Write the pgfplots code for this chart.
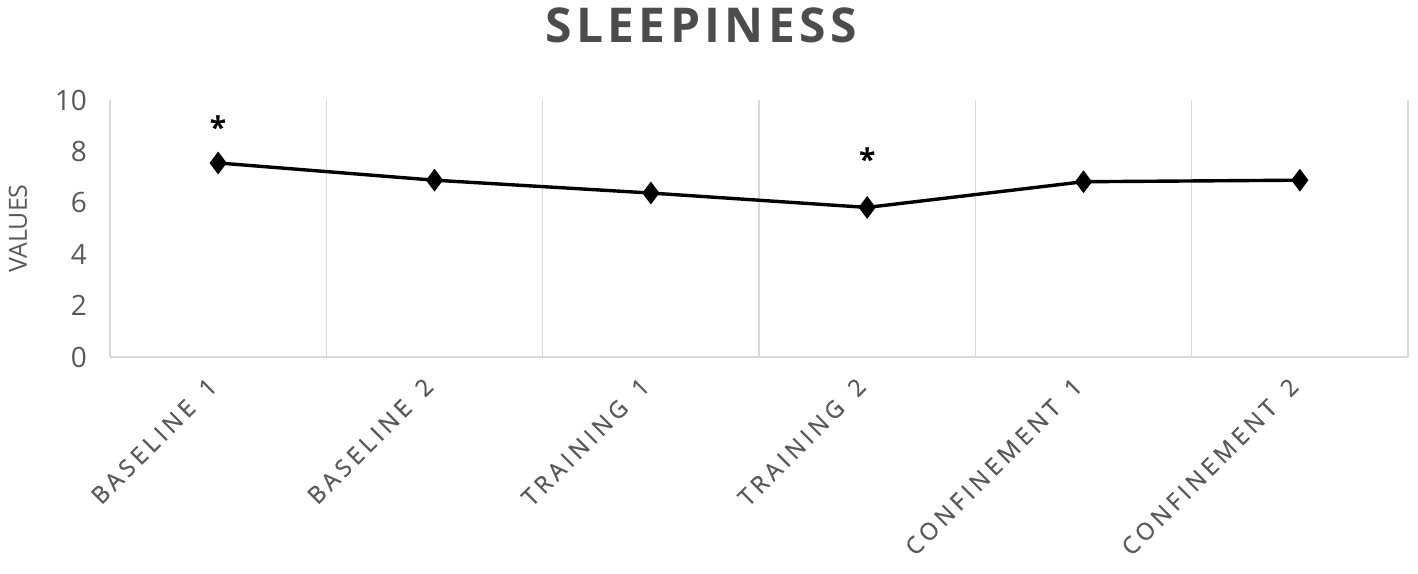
\documentclass[border=0pt]{standalone}
\usepackage{pgfplots}
\pgfplotsset{compat=1.18}
\usepackage{fontspec}
\setmainfont{Open Sans}
\newfontfamily\spaced{Open Sans}[LetterSpace=18, FakeBold=0.6, WordSpace=1.6]
\newfontfamily\titlefont{Open Sans}[LetterSpace=9]
\definecolor{txt}{HTML}{595959}
\definecolor{gridc}{HTML}{D9D9D9}
\begin{document}
\begin{tikzpicture}
\begin{axis}[
  scale only axis,
  width=649pt, height=128.5pt,
  xmin=-0.5, xmax=5.5, ymin=0, ymax=10,
  ytick={0,2,...,10},
  xtick={0,...,5},
  xticklabels={BASELINE 1,BASELINE 2,TRAINING 1,TRAINING 2,CONFINEMENT 1,CONFINEMENT 2},
  minor xtick={-0.5,0.5,...,5.5},
  xminorgrids=true,
  minor grid style={gridc, line width=0.7pt},
  axis x line=bottom, axis y line=left,
  axis line style={gridc, line width=0.7pt, -},
  major tick length=0pt, minor tick length=0pt,
  tick style={draw=none},
  /pgf/number format/assume math mode=true,
  yticklabel style={font=\fontsize{14}{16}\selectfont, text=txt, xshift=-8pt},
  xticklabel style={font=\spaced\fontsize{11.8}{13}\selectfont, text=txt, xshift=-6pt, yshift=-8pt, rotate=45, anchor=north east, inner sep=1pt},
  ylabel={VALUES},
  ylabel style={font=\fontsize{12.5}{14}\selectfont, text=txt, yshift=7pt},
  title={SLEEPINESS},
  title style={font=\titlefont\bfseries\fontsize{24}{28}\selectfont, text=txt!85!black, xshift=-29pt, yshift=19pt},
  clip=false,
  after end axis/.code={
    \path (rel axis cs:0,0) ++(-55pt,-108pt);
    \path (rel axis cs:1,1) ++(5pt,50pt);
  },
]
\addplot[black, line width=1.7pt, mark=diamond*, mark size=4.3pt, mark options={solid, fill=black}]
  coordinates {(0,7.55)(1,6.88)(2,6.38)(3,5.82)(4,6.82)(5,6.88)};
\addplot[draw=none, nodes near coords={\textbf{*}}, every node near coord/.style={font=\fontsize{15}{15}\selectfont, anchor=center, yshift=18pt}]
  coordinates {(0,7.55)};
\addplot[draw=none, nodes near coords={\textbf{*}}, every node near coord/.style={font=\fontsize{15}{15}\selectfont, anchor=center, yshift=24pt}]
  coordinates {(3,5.82)};
\end{axis}
\end{tikzpicture}
\end{document}
